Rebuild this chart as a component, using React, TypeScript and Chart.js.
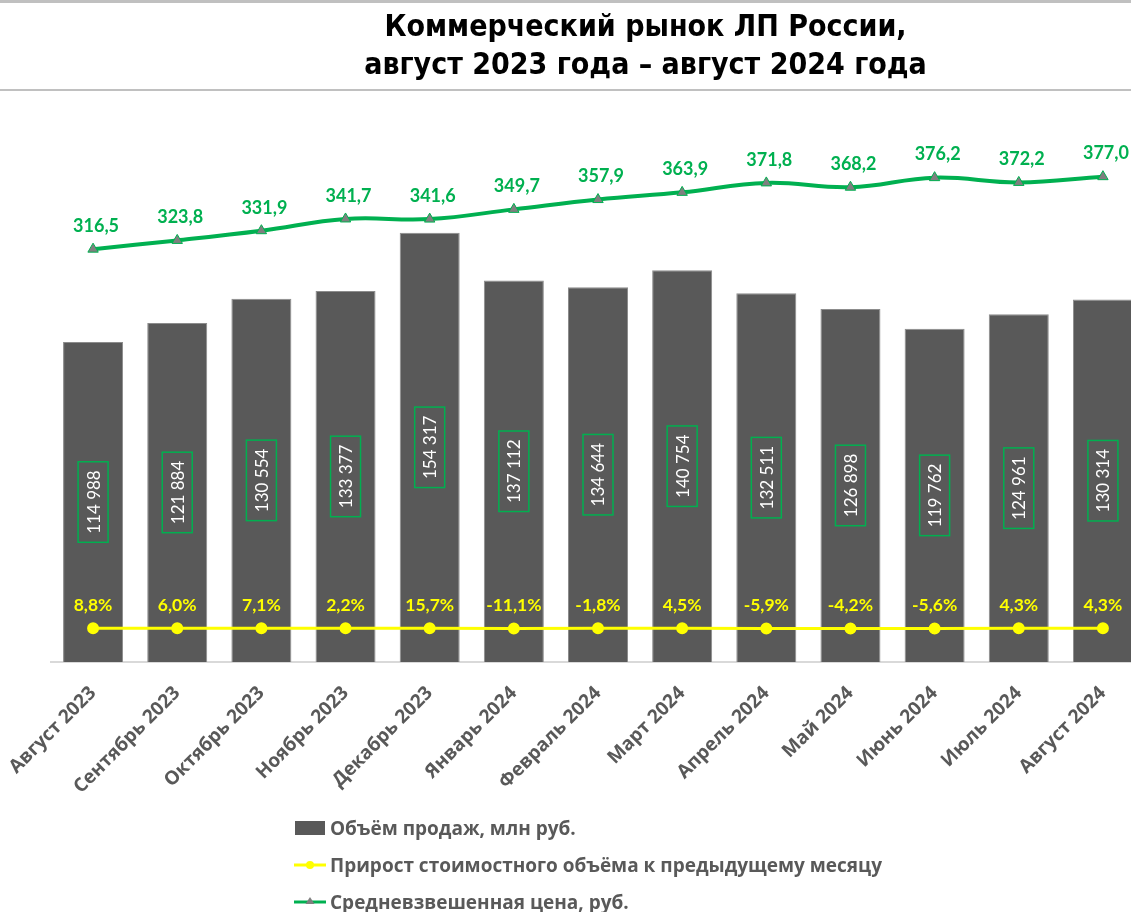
import React, { useEffect, useRef } from "react";
import { Chart, registerables } from "chart.js";

Chart.register(...registerables);

const categories = [
  "Август 2023", "Сентябрь 2023", "Октябрь 2023", "Ноябрь 2023", "Декабрь 2023",
  "Январь 2024", "Февраль 2024", "Март 2024", "Апрель 2024", "Май 2024",
  "Июнь 2024", "Июль 2024", "Август 2024",
];
const salesVolume = [114988, 121884, 130554, 133377, 154317, 137112, 134644, 140754, 132511, 126898, 119762, 124961, 130314];
const growthPct = [8.8, 6.0, 7.1, 2.2, 15.7, -11.1, -1.8, 4.5, -5.9, -4.2, -5.6, 4.3, 4.3];
const avgPrice = [316.5, 323.8, 331.9, 341.7, 341.6, 349.7, 357.9, 363.9, 371.8, 368.2, 376.2, 372.2, 377.0];

const seriesNames = [
  "Объём продаж, млн руб.",
  "Прирост стоимостного объёма к предыдущему месяцу",
  "Средневзвешенная цена, руб.",
];

const GREEN = "#00b050";
const YELLOW = "#ffff00";
const BAR = "#595959";
const FONT = "Lato, 'Open Sans', sans-serif";
const FONT_WIDE = "'Open Sans', Lato, sans-serif";

const fmtThousands = (v: number) => String(v).replace(/\B(?=(\d{3})+(?!\d))/g, " ");
const fmtComma = (v: number) => v.toFixed(1).replace(".", ",");

const labelPlugin = {
  id: "valueLabels",
  afterDatasetsDraw(chart: any) {
    const ctx = chart.ctx;
    chart.data.datasets.forEach((ds: any, i: number) => {
      const meta = chart.getDatasetMeta(i);
      meta.data.forEach((el: any, j: number) => {
        ctx.save();
        if (ds.labelKind === "bar") {
          const text = fmtThousands(salesVolume[j]);
          ctx.font = `400 17px ${FONT}`;
          const w = ctx.measureText(text).width;
          ctx.translate(el.x, (el.y + el.base) / 2);
          ctx.rotate(-Math.PI / 2);
          const bw = w + 17;
          const bh = 30;
          ctx.strokeStyle = GREEN;
          ctx.lineWidth = 1.5;
          ctx.strokeRect(-bw / 2, -bh / 2, bw, bh);
          ctx.fillStyle = "#ffffff";
          ctx.textAlign = "center";
          ctx.textBaseline = "middle";
          ctx.fillText(text, 0, 1);
        } else if (ds.labelKind === "price") {
          ctx.font = `700 18px ${FONT}`;
          ctx.fillStyle = GREEN;
          ctx.textAlign = "center";
          ctx.textBaseline = "middle";
          ctx.fillText(fmtComma(avgPrice[j]), el.x + 3, el.y - 23);
        } else if (ds.labelKind === "growth") {
          ctx.font = `700 17.5px ${FONT}`;
          ctx.fillStyle = YELLOW;
          ctx.textAlign = "center";
          ctx.textBaseline = "middle";
          ctx.fillText(fmtComma(growthPct[j]) + "%", el.x, el.y - 23);
        }
        ctx.restore();
      });
    });
  },
};

export default function App() {
  const canvasRef = useRef<HTMLCanvasElement | null>(null);

  useEffect(() => {
    if (!canvasRef.current) return;
    const chart = new Chart(canvasRef.current, {
      type: "bar",
      data: {
        labels: categories,
        datasets: [
          {
            type: "line",
            label: seriesNames[2],
            data: avgPrice,
            yAxisID: "y2",
            borderColor: GREEN,
            borderWidth: 4,
            tension: 0.4,
            pointStyle: "triangle",
            pointRadius: 6,
            pointBackgroundColor: "#7f7f7f",
            pointBorderColor: GREEN,
            pointBorderWidth: 1,
            order: 0,
            labelKind: "price",
          } as any,
          {
            type: "line",
            label: seriesNames[1],
            data: growthPct.map((p) => p / 100),
            yAxisID: "y2",
            borderColor: YELLOW,
            borderWidth: 3,
            tension: 0,
            pointStyle: "circle",
            pointRadius: 4.5,
            pointBackgroundColor: YELLOW,
            pointBorderColor: YELLOW,
            order: 1,
            labelKind: "growth",
          } as any,
          {
            type: "bar",
            label: seriesNames[0],
            data: salesVolume,
            yAxisID: "y",
            backgroundColor: BAR,
            borderColor: "#8c8c8c",
            borderWidth: 1,
            barPercentage: 0.713,
            categoryPercentage: 1,
            order: 2,
            labelKind: "bar",
          } as any,
        ],
      },
      options: {
        responsive: false,
        animation: false,
        layout: { padding: { left: 51, right: 15, top: 120, bottom: 0 } },
        plugins: {
          legend: { display: false },
          title: { display: false },
          tooltip: { enabled: false },
        },
        scales: {
          x: {
            grid: { display: false, drawTicks: false },
            border: { display: true, color: "#d9d9d9", width: 2 },
            ticks: {
              minRotation: 45,
              maxRotation: 45,
              padding: 20,
              color: BAR,
              font: { family: FONT_WIDE, size: 19, weight: "bold" },
              autoSkip: false,
            },
            afterFit: (scale: any) => {
              scale.height = 250;
              scale.paddingLeft = 0;
              scale.paddingRight = 0;
            },
          },
          y: { display: false, min: 0, max: 194800 },
          y2: { display: false, min: -28.1, max: 424.3, position: "right" },
        },
      } as any,
      plugins: [labelPlugin],
    });
    return () => chart.destroy();
  }, []);

  const legendText: React.CSSProperties = {
    fontFamily: FONT_WIDE,
    fontWeight: 700,
    fontSize: 19,
    color: BAR,
    marginLeft: 4,
    whiteSpace: "nowrap",
  };
  const row = (top: number): React.CSSProperties => ({
    position: "absolute",
    left: 294,
    top,
    height: 24,
    display: "flex",
    alignItems: "center",
  });

  return (
    <div
      style={{
        position: "fixed",
        left: 0,
        top: 0,
        width: 1131,
        height: 912,
        overflow: "hidden",
        background: "#ffffff",
      }}
    >
      <canvas ref={canvasRef} width={1160} height={912} style={{ position: "absolute", left: 0, top: 0 }} />
      <div
        style={{
          position: "absolute",
          left: 0,
          top: 0,
          width: 1131,
          height: 86,
          borderTop: "3px solid #c0c0c0",
          borderBottom: "2px solid #c0c0c0",
          boxSizing: "content-box",
        }}
      >
        <div
          style={{
            position: "absolute",
            left: 160,
            right: 0,
            top: 4,
            textAlign: "center",
            fontFamily: "'DejaVu Sans Condensed', 'DejaVu Sans', sans-serif",
            fontWeight: 700,
            fontSize: 30,
            lineHeight: "38px",
            color: "#000000",
          }}
        >
          <div>Коммерческий рынок ЛП России,</div>
          <div>август 2023 года – август 2024 года</div>
        </div>
      </div>
      <div style={row(816)}>
        <svg width={32} height={16}>
          <rect x={1} y={1} width={30} height={14} fill={BAR} />
        </svg>
        <span style={legendText}>{seriesNames[0]}</span>
      </div>
      <div style={row(853)}>
        <svg width={32} height={16}>
          <line x1={0} y1={8} x2={32} y2={8} stroke={YELLOW} strokeWidth={3} />
          <circle cx={16} cy={8} r={4} fill={YELLOW} />
        </svg>
        <span style={legendText}>{seriesNames[1]}</span>
      </div>
      <div style={row(890)}>
        <svg width={32} height={16}>
          <line x1={0} y1={8} x2={32} y2={8} stroke={GREEN} strokeWidth={3} />
          <polygon points="16,3 20.5,10 11.5,10" fill="#7f7f7f" />
        </svg>
        <span style={legendText}>{seriesNames[2]}</span>
      </div>
    </div>
  );
}
